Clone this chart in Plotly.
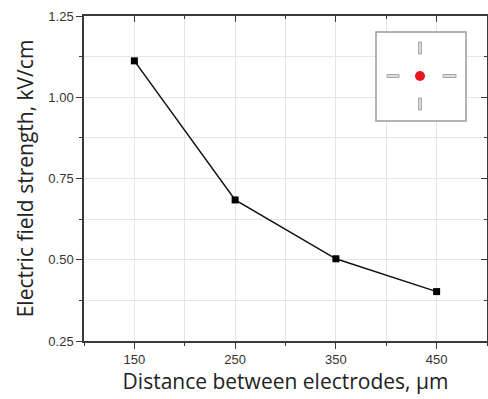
import plotly.graph_objects as go

distance_um = [150, 250, 350, 450]
field_kv_cm = [1.112, 0.684, 0.503, 0.402]
x_tick_vals = [150, 250, 350, 450]
y_tick_vals = [0.25, 0.50, 0.75, 1.00, 1.25]

W, H = 488, 399
L, R, T, B = 84, 1, 16, 58
pw, ph = W - L - R, H - T - B

def px(x):
    return (x - L) / pw

def py(y):
    return (H - B - y) / ph

fig = go.Figure()
fig.add_trace(go.Scatter(
    x=distance_um, y=field_kv_cm, mode="lines+markers",
    line=dict(color="#111111", width=1.5),
    marker=dict(symbol="square", size=7, color="#000000"),
    showlegend=False, hoverinfo="x+y"))
# helper trace so the mirrored (inward-tick) top/right axes are drawn
fig.add_trace(go.Scatter(
    x=distance_um, y=field_kv_cm, mode="markers", xaxis="x2", yaxis="y2",
    marker=dict(opacity=0), showlegend=False, hoverinfo="skip"))

axis_line = "#3a3a3a"
grid = "#e6e6e6"
tickfont = dict(family="Liberation Sans, Arial", size=13, color="#333333")
titlefont = dict(family="Open Sans, Noto Sans", size=21, color="#222222")

fig.update_layout(
    width=W, height=H, autosize=False,
    margin=dict(l=L, r=R, t=T, b=B),
    paper_bgcolor="white", plot_bgcolor="white",
    xaxis=dict(
        automargin=False,
        range=[100, 500], tickvals=x_tick_vals, ticks="outside", ticklen=6,
        tickwidth=1.2, tickcolor=axis_line, showline=True, linecolor=axis_line,
        linewidth=1.5, showgrid=True, gridcolor=grid, gridwidth=1,
        zeroline=False, tickfont=tickfont,
        minor=dict(dtick=50, tick0=100, ticks="outside", ticklen=3,
                   tickcolor=axis_line, showgrid=True, gridcolor=grid),
        title=dict(text="Distance between electrodes, µm", font=titlefont, standoff=8),
    ),
    yaxis=dict(
        automargin=False,
        range=[0.25, 1.25], tickvals=y_tick_vals, tickformat=".2f",
        ticks="outside", ticklen=6, tickwidth=1.2, tickcolor=axis_line,
        showline=True, linecolor=axis_line, linewidth=1.5, showgrid=True,
        gridcolor=grid, gridwidth=1, zeroline=False, tickfont=tickfont,
        minor=dict(dtick=0.125, tick0=0.25, ticks="outside", ticklen=3,
                   tickcolor=axis_line, showgrid=True, gridcolor=grid),
        title=dict(text="Electric field strength, kV/cm", font=titlefont, standoff=9),
    ),
    xaxis2=dict(
        automargin=False,
        overlaying="x", side="top", range=[100, 500], tickvals=x_tick_vals,
        ticks="inside", ticklen=6, tickwidth=1.2, tickcolor=axis_line,
        showticklabels=False, showline=True, linecolor=axis_line, linewidth=1.5,
        showgrid=False, zeroline=False,
        minor=dict(dtick=50, tick0=100, ticks="inside", ticklen=3, tickcolor=axis_line),
    ),
    yaxis2=dict(
        automargin=False,
        overlaying="y", side="right", range=[0.25, 1.25], tickvals=y_tick_vals,
        ticks="inside", ticklen=6, tickwidth=1.2, tickcolor=axis_line,
        showticklabels=False, showline=True, linecolor=axis_line, linewidth=1.5,
        showgrid=False, zeroline=False,
        minor=dict(dtick=0.125, tick0=0.25, ticks="inside", ticklen=3, tickcolor=axis_line),
    ),
)

# inset schematic (electrode layout)
shapes = [
    dict(type="rect", xref="paper", yref="paper", x0=px(376), x1=px(466),
         y0=py(121), y1=py(32), line=dict(color="#9a9a9a", width=1.5),
         fillcolor="white", layer="above"),
]
bar_style = dict(type="rect", xref="paper", yref="paper",
                 line=dict(color="#a8a8a8", width=1), fillcolor="#dcdcdc", layer="above")
for (x0, x1, y0, y1) in [(418.5, 421.5, 42, 54), (418.5, 421.5, 98, 110),
                         (387, 399, 74.5, 77.5), (443, 456, 74.5, 77.5)]:
    s = dict(bar_style)
    s.update(x0=px(x0), x1=px(x1), y0=py(y1), y1=py(y0))
    shapes.append(s)
shapes.append(dict(type="circle", xref="paper", yref="paper",
                   x0=px(415), x1=px(425), y0=py(81), y1=py(71),
                   line=dict(color="#e8161d", width=0), fillcolor="#e8161d",
                   layer="above"))
fig.update_layout(shapes=shapes)

fig.write_html(
    "out.html",
    config={"responsive": False, "displayModeBar": False},
    default_width="488px", default_height="399px",
    post_script="document.body.style.margin='0';document.body.style.overflow='hidden';",
)
